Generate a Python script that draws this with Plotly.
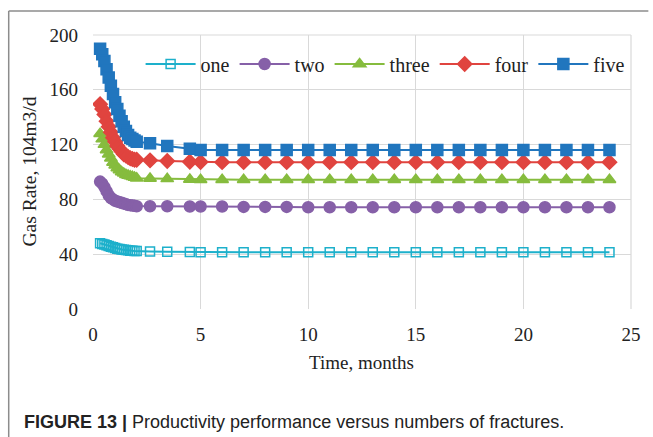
import plotly.graph_objects as go

# ---- data ----
time = [0.33, 0.43, 0.53, 0.63, 0.73, 0.83, 0.93, 1.03, 1.13, 1.23, 1.33, 1.43, 1.53, 1.63,
        1.73, 1.83, 1.93, 2.03, 2.65, 3.45, 4.5, 5, 6, 7, 8, 9, 10, 11, 12, 13, 14, 15, 16,
        17, 18, 19, 20, 21, 22, 23, 24]

one = [48, 47.5, 47, 46.5, 46, 45.5, 45, 44.5, 44, 43.8, 43.5, 43.3, 43, 42.8, 42.6, 42.5,
       42.4, 42.3, 42, 41.8, 41.6, 41.5, 41.5, 41.5, 41.5, 41.5, 41.5, 41.5, 41.5, 41.5,
       41.5, 41.5, 41.5, 41.5, 41.5, 41.5, 41.5, 41.5, 41.5, 41.5, 41.5]
two = [93, 91.5, 89, 86, 83, 81, 80, 79, 78.5, 78, 77.5, 77, 76.5, 76, 75.8, 75.5, 75.3, 75,
       75, 75, 74.8, 74.8, 74.8, 74.5, 74.5, 74.5, 74.3, 74.3, 74.3, 74.3, 74.3, 74.3, 74.3,
       74.3, 74.3, 74.3, 74.3, 74.3, 74.3, 74.3, 74.3]
three = [128, 124, 120, 116, 113, 110, 107, 105, 103, 101.5, 100, 99, 98, 97.5, 97, 96.5,
         96, 95.5, 95.2, 95, 94.6, 94.4, 94.3, 94.3, 94.3, 94.3, 94.3, 94.3, 94.3, 94.3,
         94.3, 94.3, 94.3, 94.3, 94.3, 94.3, 94.3, 94.3, 94.3, 94.3, 94.3]
four = [149.5, 146, 142, 137, 133, 129, 125, 122, 119, 117, 115, 113, 112, 111, 110, 109.5,
        109, 109, 108.5, 108, 107.5, 107.3, 107.2, 107.2, 107.2, 107.2, 107.2, 107.2, 107.2,
        107.2, 107.2, 107.2, 107.2, 107.2, 107.2, 107.2, 107.2, 107.2, 107.2, 107.2, 107.2]
five = [190, 186, 181, 175, 169, 163, 157, 151, 146, 141, 137, 133, 130, 127, 125, 124,
        123, 122, 121, 119, 117, 116, 116, 116, 116, 116, 116, 116, 116, 116, 116, 116, 116,
        116, 116, 116, 116, 116, 116, 116, 116]

series_names = ["one", "two", "three", "four", "five"]
x_ticks = [0, 5, 10, 15, 20, 25]
y_ticks = [0, 40, 80, 120, 160, 200]

# ---- styles ----
styles = {
    "one": dict(color="#1DB0CB", symbol="square-open", size=9),
    "two": dict(color="#8660A8", symbol="circle", size=11),
    "three": dict(color="#86BC3E", symbol="triangle-up", size=11),
    "four": dict(color="#E0443F", symbol="diamond", size=11),
    "five": dict(color="#2176BE", symbol="square", size=11),
}
values = {"one": one, "two": two, "three": three, "four": four, "five": five}

fig = go.Figure()
for name in series_names:
    st = styles[name]
    fig.add_trace(go.Scatter(
        x=time, y=values[name], name=name, mode="lines+markers",
        line=dict(color=st["color"], width=2),
        marker=dict(symbol=st["symbol"], size=st["size"], color=st["color"],
                    line=dict(color=st["color"], width=1.5)),
    ))

W, H = 653, 437
L, R, T, B = 93, 635.5, 35, 309


def px(xp):
    return (xp - L) / (R - L)


def py(yp):
    return (B - yp) / (B - T)


serif = "Liberation Serif"
fig.update_layout(
    width=W, height=H,
    margin=dict(l=L, r=W - R, t=T, b=H - B, pad=0),
    paper_bgcolor="white", plot_bgcolor="white",
    font=dict(family=serif, size=18, color="#222222"),
    showlegend=True,
    legend=dict(orientation="h", x=px(141), y=py(64), xanchor="left", yanchor="middle",
                font=dict(family=serif, size=20, color="#222222"),
                bgcolor="rgba(255,255,255,0)", itemwidth=50, tracegroupgap=0),
    xaxis=dict(range=[0, 25], tickvals=x_ticks, showgrid=True, gridcolor="#D9D9D9",
               gridwidth=1.2, zeroline=False, showline=False, ticks="",
               ticklabelstandoff=12, tickfont=dict(family=serif, size=19, color="#222222"),
               mirror=False),
    yaxis=dict(range=[0, 200], tickvals=y_ticks, showgrid=True, gridcolor="#D9D9D9",
               gridwidth=1.2, zeroline=False, showline=False, ticks="",
               ticklabelstandoff=14, tickfont=dict(family=serif, size=19, color="#222222")),
    shapes=[
        dict(type="line", xref="paper", yref="paper", x0=px(8), x1=px(8), y0=py(11), y1=py(437),
             line=dict(color="#8C8C8C", width=1.5)),
        dict(type="line", xref="paper", yref="paper", x0=px(8), x1=px(653), y0=py(11), y1=py(11),
             line=dict(color="#8C8C8C", width=1.5)),
        dict(type="line", xref="paper", yref="paper", x0=1, x1=1, y0=0, y1=1,
             line=dict(color="#D9D9D9", width=1.2), layer="below"),
        dict(type="line", xref="paper", yref="paper", x0=0, x1=1, y0=1, y1=1,
             line=dict(color="#D9D9D9", width=1.2), layer="below"),
    ],
    annotations=[
        dict(text="Time, months", xref="paper", yref="paper", x=px(364), y=py(362),
             xanchor="center", yanchor="middle", showarrow=False,
             font=dict(family=serif, size=19, color="#222222")),
        dict(text="Gas Rate, 104m3/d", xref="paper", yref="paper", x=px(28), y=py(172),
             xanchor="center", yanchor="middle", textangle=-90, showarrow=False,
             font=dict(family=serif, size=19.5, color="#222222")),
        dict(text="<b>FIGURE 13 |</b> Productivity performance versus numbers of fractures.",
             xref="paper", yref="paper", x=px(21), y=py(422), xanchor="left", yanchor="middle",
             showarrow=False, font=dict(family="Liberation Sans", size=18, color="#222222")),
    ],
)

fig.write_html("out.html", config={"displayModeBar": False},
               post_script="document.body.style.margin='0px';document.body.style.overflow='hidden';")
